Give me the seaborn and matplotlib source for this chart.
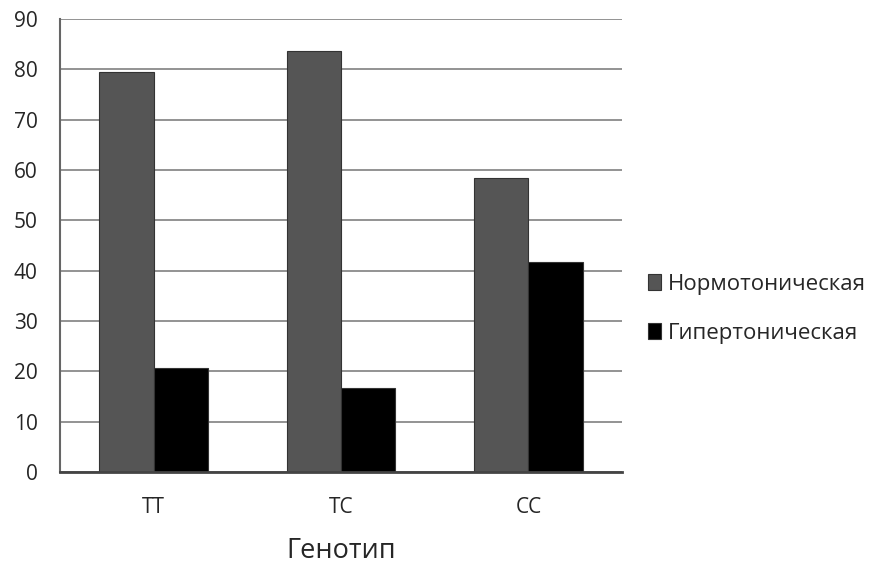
import pandas as pd
import seaborn as sns
import matplotlib
matplotlib.use("Agg")
import matplotlib.pyplot as plt

# values (percent per genotype)
genotypes = ["TT", "TC", "CC"]
normo = [79.5, 83.6, 58.4]
hyper = [20.7, 16.7, 41.7]
groups = ["Нормотоническая", "Гипертоническая"]

df = pd.DataFrame({
    "Генотип": genotypes * 2,
    "value": normo + hyper,
    "group": [groups[0]] * 3 + [groups[1]] * 3,
})

sns.set_style("white")
plt.rcParams['font.family'] = ['Open Sans', 'DejaVu Sans']

fig = plt.figure(figsize=(8.77, 5.68), dpi=100)
ax = fig.add_axes([0.0684, 0.169, 0.641, 0.7975])

sns.barplot(data=df, x="Генотип", y="value", hue="group",
            palette=["#555555", "#000000"], width=0.58, gap=0,
            edgecolor="#333333", linewidth=0.8, saturation=1, ax=ax)

ax.set_ylim(0, 90)
ax.set_yticks(range(0, 91, 10))
ax.set_xlim(-0.5, 2.5)
ax.yaxis.grid(True, color="#808080", linewidth=1.2)
ax.set_axisbelow(True)
for s in ["top", "right"]:
    ax.spines[s].set_visible(False)
ax.spines["left"].set_color("#666666")
ax.spines["left"].set_linewidth(1.5)
ax.spines["bottom"].set_color("#444444")
ax.spines["bottom"].set_linewidth(2)
ax.tick_params(axis="both", length=0, labelsize=15)
ax.tick_params(axis="y", pad=16)
ax.tick_params(axis="x", pad=18)
ax.set_ylabel("")
ax.set_xlabel("Генотип", fontsize=19.5, labelpad=14)

ax.legend(loc="center left", bbox_to_anchor=(1.01, 0.36), frameon=False,
          fontsize=16, handlelength=0.6, handleheight=0.75, handletextpad=0.3,
          labelspacing=1.25)

fig.savefig("out.png", dpi=100)
